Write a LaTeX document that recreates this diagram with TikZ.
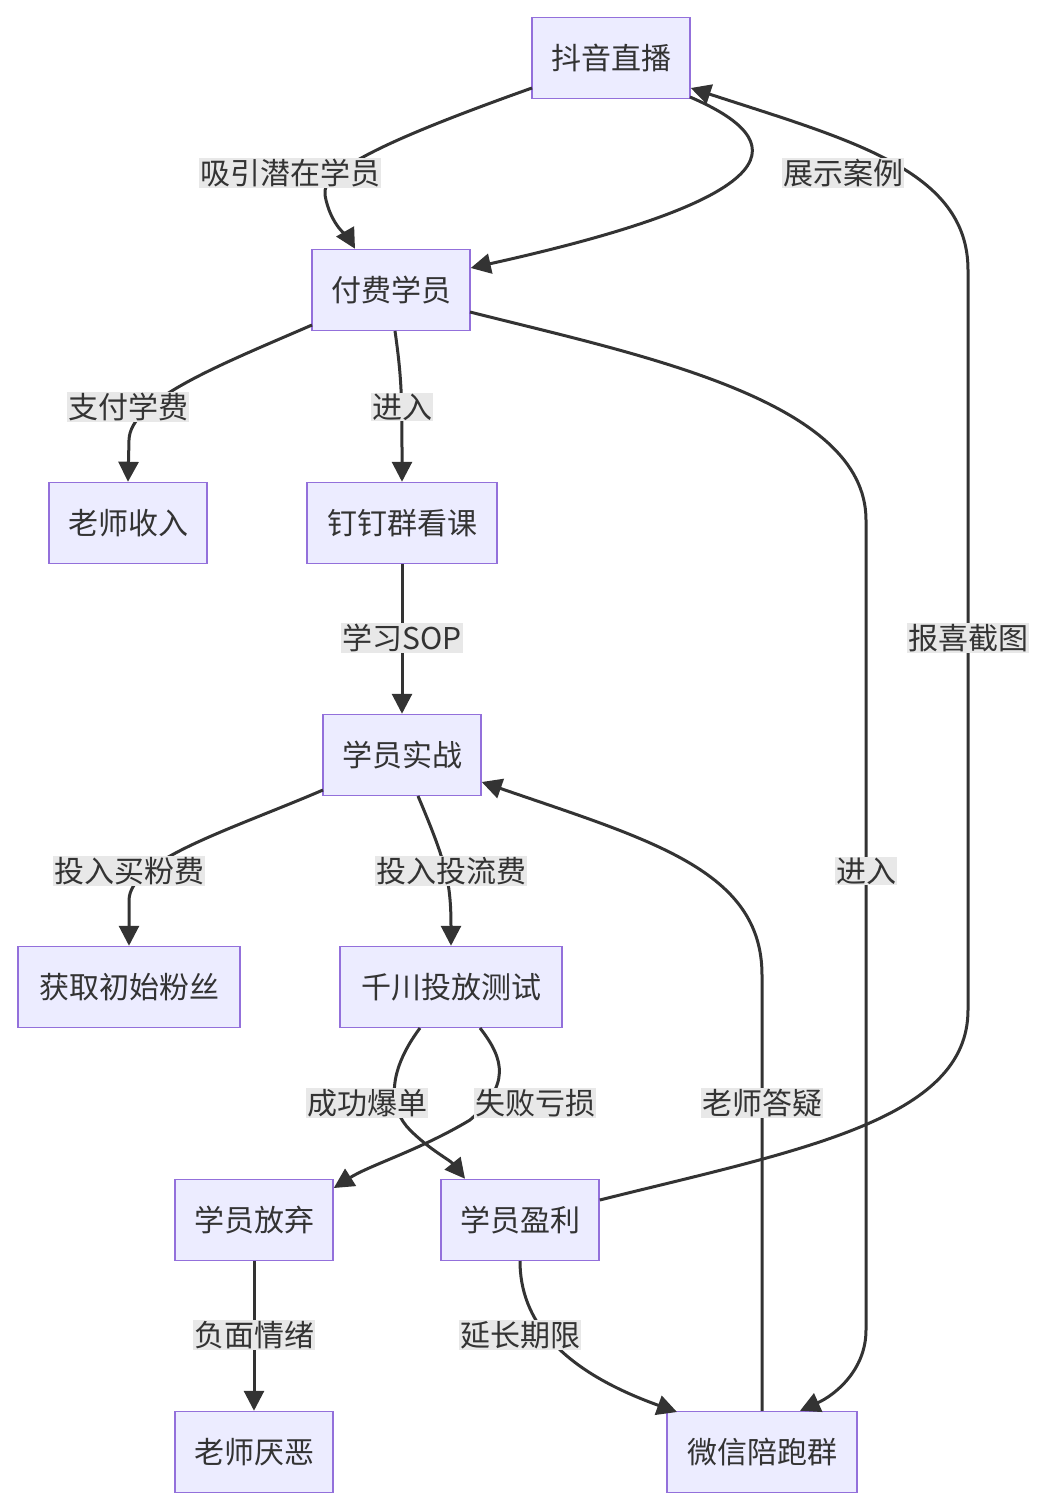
\documentclass[tikz,border=0pt]{standalone}
\usepackage{fontspec}
\setmainfont{Noto Sans CJK SC}
\usetikzlibrary{arrows.meta}
\definecolor{nf}{HTML}{ECECFF}
\definecolor{ns}{HTML}{9370DB}
\definecolor{ec}{HTML}{333333}
\definecolor{lb}{HTML}{E8E8E8}
\begin{document}
\begin{tikzpicture}[x=1pt,y=-1pt,
  box/.style={draw=ns,fill=nf,line width=1.5pt,minimum height=81pt,inner xsep=15pt,font=\fontsize{30}{36}\selectfont,text=ec},
  e/.style={draw=ec,line width=3pt,-{Triangle[length=20pt,width=20pt]}},
  lab/.style={fill=lb,inner sep=1pt,font=\fontsize{30}{36}\selectfont,text=ec}]
\useasboundingbox (0,0) rectangle (1052,1510);
\node[box,minimum width=158pt] (dy) at (611,58) {抖音直播};
\node[box,minimum width=158pt] (ff) at (391,290) {付费学员};
\node[box,minimum width=158pt] (sr) at (128,523) {老师收入};
\node[box,minimum width=190pt] (dd) at (402,523) {钉钉群看课};
\node[box,minimum width=158pt] (sz) at (402,755) {学员实战};
\node[box,minimum width=222pt] (hq) at (129,987) {获取初始粉丝};
\node[box,minimum width=222pt] (qc) at (451,987) {千川投放测试};
\node[box,minimum width=158pt] (fq) at (254,1220) {学员放弃};
\node[box,minimum width=158pt] (yl) at (520,1220) {学员盈利};
\node[box,minimum width=158pt] (yw) at (254,1452) {老师厌恶};
\node[box,minimum width=190pt] (wx) at (762,1452) {微信陪跑群};
\coordinate (a1) at (532,88);
\draw[e] (a1) .. controls (400,135) and (320,170) .. (325,195) .. controls (330,225) and (350,240) .. (ff.north -| 355,0);
\draw[e] (690,97) .. controls (790,140) and (800,195) .. (ff.east |- 0,268);
\draw[e] (yl.east |- 0,1200) .. controls (800,1150) and (968,1120) .. (968,1010) -- (968,270) .. controls (968,170) and (850,140) .. (dy.east |- 0,88);
\draw[e] (312,325) .. controls (220,365) and (130,400) .. (129,440) -- (sr.north);
\draw[e] (395,331) .. controls (402,380) and (402,400) .. (dd.north);
\draw[e] (470,312) .. controls (640,355) and (866,400) .. (866,520) -- (866,1330) .. controls (866,1370) and (835,1395) .. (wx.north -| 800,0);
\draw[e] (dd) -- (sz);
\draw[e] (323,790) .. controls (230,830) and (130,860) .. (129,900) -- (hq.north);
\draw[e] (418,796) .. controls (445,860) and (451,880) .. (qc.north);
\draw[e] (420,1028) .. controls (385,1075) and (390,1110) .. (410,1130) .. controls (430,1150) and (450,1160) .. (yl.north -| 465,0);
\draw[e] (480,1028) .. controls (505,1060) and (510,1085) .. (470,1120) .. controls (420,1150) and (370,1165) .. (fq.east |- 0,1188);
\draw[e] (fq) -- (yw);
\draw[e] (520,1261) .. controls (520,1320) and (560,1370) .. (677,1412);
\draw[e] (wx.north -| 762,0) -- (762,975) .. controls (762,870) and (650,840) .. (sz.east |- 0,782);
\node[lab] (l1) at (290,173) {吸引潜在学员};
\node[lab] (l2) at (843,173) {展示案例};
\node[lab] (l3) at (128,407) {支付学费};
\node[lab] (l4) at (402,407) {进入};
\node[lab] (l5) at (866,871) {进入};
\node[lab] (l6) at (402,638) {学习SOP};
\node[lab] (l7) at (129,871) {投入买粉费};
\node[lab] (l8) at (451,871) {投入投流费};
\node[lab] (l9) at (367,1103) {成功爆单};
\node[lab] (l10) at (535,1103) {失败亏损};
\node[lab] (l11) at (762,1103) {老师答疑};
\node[lab] (l12) at (968,638) {报喜截图};
\node[lab] (l13) at (254,1335) {负面情绪};
\node[lab] (l14) at (520,1335) {延长期限};
\end{tikzpicture}
\end{document}
